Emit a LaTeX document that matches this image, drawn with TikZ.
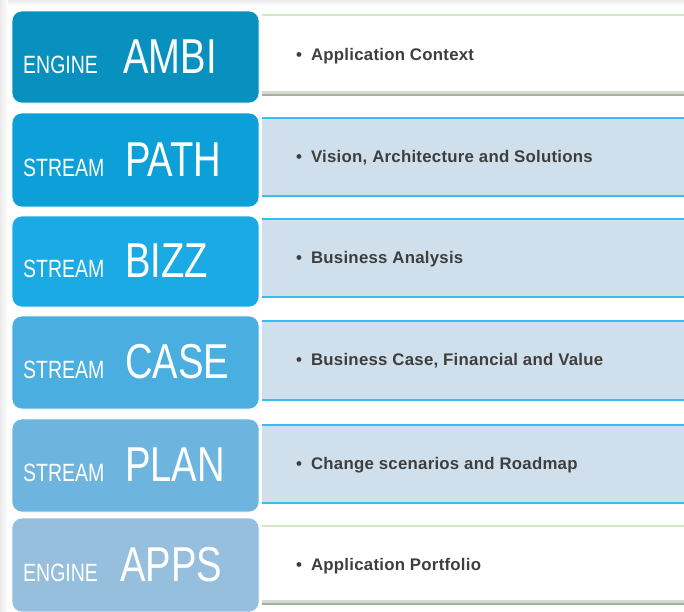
\documentclass[tikz,border=0pt]{standalone}
\usepackage{fontspec}
\setmainfont{Liberation Sans}
\newfontfamily\narrowfont[FakeStretch=0.78]{Liberation Sans}
\newfontfamily\itemfont[LetterSpace=1.5]{Liberation Sans}
\usetikzlibrary{positioning}
\definecolor{cAMBI}{HTML}{0891BF}
\definecolor{cPATH}{HTML}{0DA0D8}
\definecolor{cBIZZ}{HTML}{1BAAE3}
\definecolor{cCASE}{HTML}{4AAEE0}
\definecolor{cPLAN}{HTML}{6DB4DE}
\definecolor{cAPPS}{HTML}{95BFDD}
\definecolor{panelfill}{HTML}{CFE0EC}
\definecolor{panelline}{HTML}{38BDF0}
\definecolor{greenline}{HTML}{D3E6C5}
\definecolor{greenbottom}{HTML}{A3B39A}
\definecolor{bodytext}{HTML}{3E3E3E}
\definecolor{edgegray}{HTML}{EBEBEB}
\tikzset{
  box/.style={rounded corners=10pt, inner sep=0pt, minimum width=247pt, draw=white, line width=0.6pt},
  panel/.style={inner sep=0pt, minimum width=422pt, anchor=west},
  small/.style={anchor=base west, inner sep=0pt, text=white, font=\narrowfont\fontsize{25}{25}\selectfont},
  big/.style={anchor=base west, inner sep=0pt, text=white, font=\narrowfont\fontsize{49}{49}\selectfont},
  item/.style={anchor=base west, inner sep=0pt, text=bodytext, font=\itemfont\bfseries\fontsize{16.8}{16.8}\selectfont},
  blueline/.style={draw=panelline, line width=1.8pt},
}
\begin{document}
\begin{tikzpicture}[x=1pt,y=-1pt]
\useasboundingbox (0,0) rectangle (684,611);
\fill[white] (0,0) rectangle (684,611);
% gray edges
\shade[top color=edgegray, bottom color=white] (0,0) rectangle (684,6);
\shade[left color=edgegray, right color=white] (0,0) rectangle (8,611);

% ---- row 1: AMBI (engine) ----
\node[box, fill=cAMBI, minimum height=92pt] (b1) at (135.5,57) {};
\node[panel, minimum height=80pt] (p1) at (262,55) {};
\draw[greenline, line width=1.5pt] (p1.north west) -- (p1.north east);
\fill[black!25, opacity=0.6] ([yshift=1pt]p1.south west) rectangle ([yshift=4pt]p1.south east);
\draw[greenbottom, line width=1.8pt] (p1.south west) -- (p1.south east);
\node[small] (s1) at (23,73) {ENGINE};
\node[big] (t1) at (123,73) {AMBI};
\node[item] (i1) at (296,60) {•\hspace{9pt}Application Context};

% ---- row 2: PATH ----
\node[box, fill=cPATH, minimum height=94pt] (b2) at (135.5,160) {};
\node[panel, fill=panelfill, minimum height=78pt] (p2) at (262,157) {};
\draw[blueline] (p2.north west) -- (p2.north east);
\draw[blueline] (p2.south west) -- (p2.south east);
\node[small] (s2) at (23,176) {STREAM};
\node[big] (t2) at (125,176) {PATH};
\node[item] (i2) at (296,162) {•\hspace{9pt}Vision, Architecture and Solutions};

% ---- row 3: BIZZ ----
\node[box, fill=cBIZZ, minimum height=91pt] (b3) at (135.5,261.5) {};
\node[panel, fill=panelfill, minimum height=78pt] (p3) at (262,258) {};
\draw[blueline] (p3.north west) -- (p3.north east);
\draw[blueline] (p3.south west) -- (p3.south east);
\node[small] (s3) at (23,277) {STREAM};
\node[big] (t3) at (125,277) {BIZZ};
\node[item] (i3) at (296,263) {•\hspace{9pt}Business Analysis};

% ---- row 4: CASE ----
\node[box, fill=cCASE, minimum height=93pt] (b4) at (135.5,362.5) {};
\node[panel, fill=panelfill, minimum height=79pt] (p4) at (262,360.5) {};
\draw[blueline] (p4.north west) -- (p4.north east);
\draw[blueline] (p4.south west) -- (p4.south east);
\node[small] (s4) at (23,378) {STREAM};
\node[big] (t4) at (125,378) {CASE};
\node[item] (i4) at (296,365.5) {•\hspace{9pt}Business Case, Financial and Value};

% ---- row 5: PLAN ----
\node[box, fill=cPLAN, minimum height=93pt] (b5) at (135.5,465.5) {};
\node[panel, fill=panelfill, minimum height=78pt] (p5) at (262,464) {};
\draw[blueline] (p5.north west) -- (p5.north east);
\draw[blueline] (p5.south west) -- (p5.south east);
\node[small] (s5) at (23,481) {STREAM};
\node[big] (t5) at (125,481) {PLAN};
\node[item] (i5) at (296,469) {•\hspace{9pt}Change scenarios and Roadmap};

% ---- row 6: APPS (engine) ----
\node[box, fill=cAPPS, minimum height=94pt] (b6) at (135.5,565) {};
\node[panel, minimum height=78pt] (p6) at (262,565) {};
\draw[greenline, line width=1.5pt] (p6.north west) -- (p6.north east);
\fill[black!25, opacity=0.6] ([yshift=1pt]p6.south west) rectangle ([yshift=4pt]p6.south east);
\draw[greenbottom, line width=1.8pt] (p6.south west) -- (p6.south east);
\node[small] (s6) at (23,581) {ENGINE};
\node[big] (t6) at (120,581) {APPS};
\node[item] (i6) at (296,570) {•\hspace{9pt}Application Portfolio};
\end{tikzpicture}
\end{document}
